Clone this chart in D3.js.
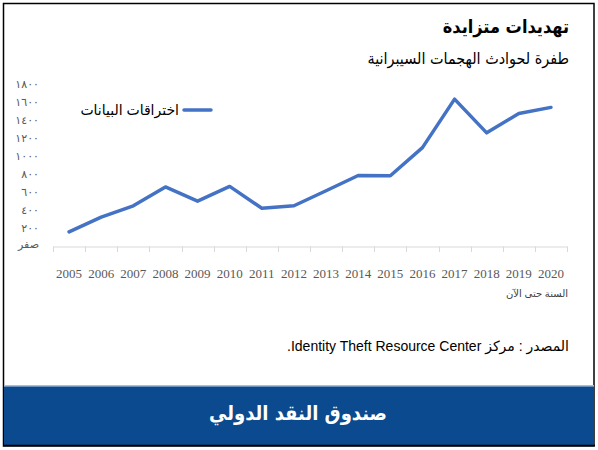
<!DOCTYPE html>
<html>
<head>
<meta charset="utf-8">
<script src="https://cdn.jsdelivr.net/npm/d3@7"></script>
<style>
  html, body { margin: 0; padding: 0; background: #fff; }
  svg { display: block; font-family: "Liberation Sans", Arial, "DejaVu Sans", sans-serif; }
  .ar { font-family: "DejaVu Sans Condensed", "DejaVu Sans", sans-serif; }
</style>
</head>
<body>
<svg id="chart" width="598" height="450"></svg>
<script>
// データ
const years = ["2005", "2006", "2007", "2008", "2009", "2010", "2011", "2012",
  "2013", "2014", "2015", "2016", "2017", "2018", "2019", "2020"];
const breaches = [157, 321, 446, 656, 498, 662, 419, 447,
  614, 783, 781, 1093, 1632, 1257, 1473, 1540];
const yTicks = [0, 200, 400, 600, 800, 1000, 1200, 1400, 1600, 1800];
const yTickLabels = ["صفر", "٢٠٠", "٤٠٠", "٦٠٠", "٨٠٠", "١٠٠٠", "١٢٠٠", "١٤٠٠", "١٦٠٠", "١٨٠٠"];
const seriesName = "اختراقات البيانات";

const svg = d3.select("#chart");

// 外枠
svg.append("rect")
  .attr("x", 3.5).attr("y", 3.5)
  .attr("width", 590.5).attr("height", 442.5)
  .attr("fill", "#fff")
  .attr("stroke", "#000")
  .attr("stroke-width", 1.5);

// タイトル
svg.append("text")
  .attr("class", "ar")
  .attr("x", 569).attr("y", 33)
  .attr("text-anchor", "end")
  .attr("font-size", 18)
  .attr("font-weight", "bold")
  .attr("fill", "#000")
  .text("تهديدات متزايدة");

svg.append("text")
  .attr("class", "ar")
  .attr("x", 569).attr("y", 64)
  .attr("text-anchor", "end")
  .attr("font-size", 16)
  .attr("fill", "#000")
  .text("طفرة لحوادث الهجمات السيبرانية");

// スケール
const x = d3.scaleBand().domain(years).range([53, 567]);
const y = d3.scaleLinear().domain([0, 1800]).range([246, 84]);

// X軸
const xAxis = svg.append("g")
  .attr("transform", "translate(0,246.5)")
  .call(d3.axisBottom(x).tickSize(0).tickFormat(""));
xAxis.select(".domain").attr("stroke", "#d9d9d9").attr("stroke-width", 1);

// バンド境界の目盛り
svg.append("g")
  .selectAll("line")
  .data(years.concat(["end"]))
  .enter()
  .append("line")
  .attr("x1", (d, i) => Math.round(x.range()[0] + i * x.step()) + 0.5)
  .attr("x2", (d, i) => Math.round(x.range()[0] + i * x.step()) + 0.5)
  .attr("y1", 246.5)
  .attr("y2", 252)
  .attr("stroke", "#d9d9d9");

svg.append("g")
  .selectAll("text")
  .data(years)
  .enter()
  .append("text")
  .attr("x", (d) => x(d) + x.bandwidth() / 2)
  .attr("y", 278)
  .attr("text-anchor", "middle")
  .attr("font-family", "'Liberation Serif', 'DejaVu Serif', serif")
  .attr("font-size", 13)
  .attr("fill", "#595959")
  .text((d) => d);

// Y軸ラベル
svg.append("g")
  .selectAll("text")
  .data(yTicks)
  .enter()
  .append("text")
  .attr("x", 39)
  .attr("y", (d) => y(d) + (d === 0 ? 2 : 4))
  .attr("text-anchor", "end")
  .attr("font-size", 11)
  .attr("fill", "#595959")
  .text((d, i) => yTickLabels[i]);

// 折れ線
const line = d3.line()
  .x((d, i) => x(years[i]) + x.bandwidth() / 2)
  .y((d) => y(d));

svg.append("path")
  .datum(breaches)
  .attr("d", line)
  .attr("fill", "none")
  .attr("stroke", "#4472c4")
  .attr("stroke-width", 3.5)
  .attr("stroke-linejoin", "round")
  .attr("stroke-linecap", "round");

// 凡例
svg.append("line")
  .attr("x1", 184).attr("x2", 211)
  .attr("y1", 110).attr("y2", 110)
  .attr("stroke", "#4472c4")
  .attr("stroke-width", 3.5)
  .attr("stroke-linecap", "round");

svg.append("text")
  .attr("x", 179).attr("y", 115)
  .attr("text-anchor", "end")
  .attr("font-size", 14)
  .attr("fill", "#000")
  .text(seriesName);

// 注記
svg.append("text")
  .attr("x", 568).attr("y", 297)
  .attr("text-anchor", "end")
  .attr("font-size", 10)
  .attr("fill", "#404040")
  .text("السنة حتى الآن");

svg.append("text")
  .attr("x", 569).attr("y", 351)
  .attr("direction", "rtl")
  .attr("text-anchor", "start")
  .attr("font-size", 14)
  .attr("fill", "#000")
  .text("المصدر : مركز Identity Theft Resource Center.");

// 下部バンド
const grad = svg.append("defs").append("linearGradient")
  .attr("id", "bandTop")
  .attr("x1", 0).attr("y1", 0).attr("x2", 0).attr("y2", 1);
grad.append("stop").attr("offset", "0%").attr("stop-color", "#c9d6e8");
grad.append("stop").attr("offset", "100%").attr("stop-color", "#0b4a8e");

svg.append("rect")
  .attr("x", 4).attr("y", 385)
  .attr("width", 590).attr("height", 3)
  .attr("fill", "url(#bandTop)");

svg.append("rect")
  .attr("x", 4).attr("y", 387)
  .attr("width", 590).attr("height", 58)
  .attr("fill", "#0b4a8e");

svg.append("line")
  .attr("x1", 3).attr("x2", 595)
  .attr("y1", 445.5).attr("y2", 445.5)
  .attr("stroke", "#000")
  .attr("stroke-width", 1.5);

svg.append("text")
  .attr("class", "ar")
  .attr("x", 298).attr("y", 420)
  .attr("text-anchor", "middle")
  .attr("font-size", 20)
  .attr("font-weight", "bold")
  .attr("fill", "#fff")
  .text("صندوق النقد الدولي");
</script>
</body>
</html>
